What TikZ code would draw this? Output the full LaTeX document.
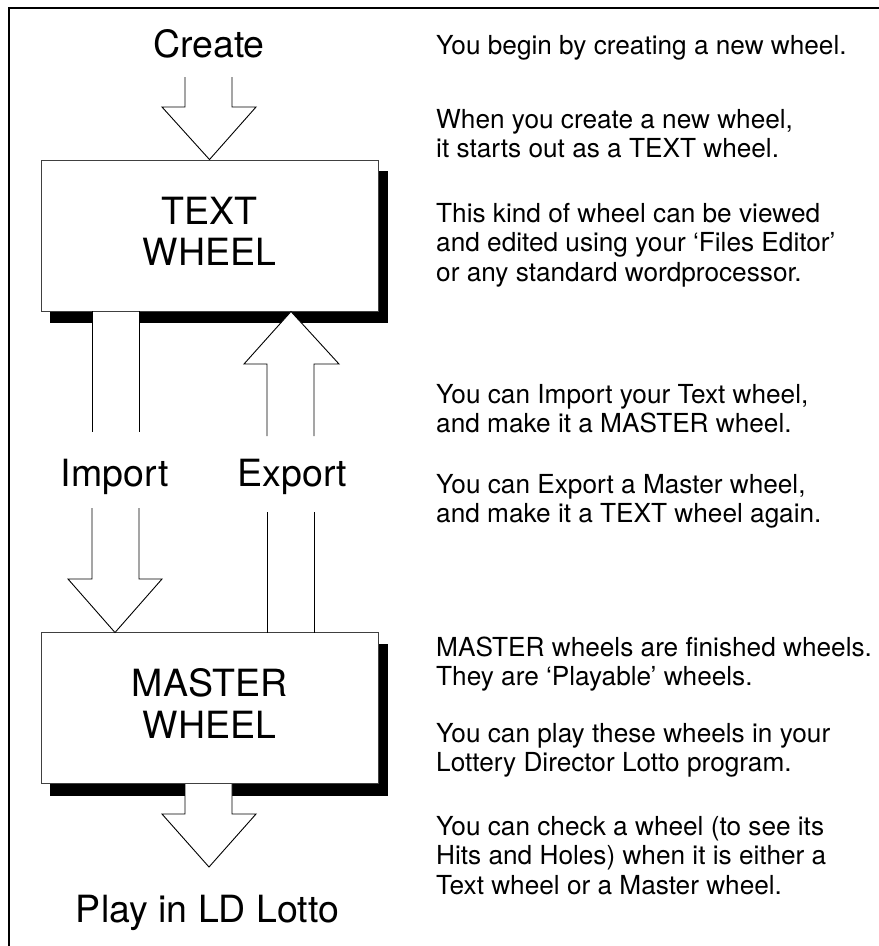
\documentclass[tikz,border=0pt]{standalone}
\usepackage{fontspec}
\setmainfont{TeX Gyre Heros}
\begin{document}
\begin{tikzpicture}[x=1pt,y=-1pt,
  big/.style={font=\fontsize{37.5}{40}\selectfont, inner sep=0pt, anchor=base},
  note/.style={font=\fontsize{26.2}{29.6}\selectfont, inner sep=0pt, anchor=base west, align=left},
  wheelbox/.style={draw=black!75, line width=0.9pt, fill=white, minimum width=337pt, minimum height=151pt, inner sep=0pt},
  shadowbox/.style={fill=black},
  blockarrow/.style={draw=black, line width=0.9pt, fill=white, line join=miter},
  arrowline/.style={draw=black, line width=0.9pt},
  frameline/.style={line width=2pt}]
\useasboundingbox (0,0) rectangle (879,946);
\draw[frameline] (9.3,946) -- (9.3,8.3) -- (879,8.3);

% shadows
\path[shadowbox] (50,171) rectangle (388,323);
\path[shadowbox] (50,644) rectangle (388,796);

% boxes
\node[wheelbox] (tw) at (209.5,235.5) {};
\node[wheelbox] (mw) at (209.5,708) {};

% box texts
\node[big] (t1) at (209.5,224) {TEXT};
\node[big] (t2) at (209.5,265) {WHEEL};
\node[big] (m1) at (209.5,696) {MASTER};
\node[big] (m2) at (209.5,738) {WHEEL};

% labels
\node[big] (create) at (209,57) {Create};
\node[big] (imp) at (114.7,486) {Import};
\node[big] (exp) at (292.5,486) {Export};
\node[big] (play) at (207.5,922) {Play in LD Lotto};

% coordinates
\coordinate (imptip) at (115,632.5);
\coordinate (exptip) at (291,311.5);
\coordinate (playtip) at (209,867);

% Create arrow
\filldraw[blockarrow] (185,77) -- (185,107) -- (162,107) -- (tw.north) -- (256,107) -- (232,107) -- (232,77);

% Import arrow
\fill[white] (92,312) rectangle (139,432);
\draw[arrowline] (92,311) -- (92,432) (139,311) -- (139,432);
\filldraw[blockarrow] (92,508) -- (92,579) -- (68,579) -- (imptip) -- (162,579) -- (139,579) -- (139,508);

% Export arrow
\filldraw[blockarrow] (267,436) -- (267,364) -- (244,364) -- (exptip) -- (339,364) -- (314,364) -- (314,436);
\draw[arrowline] (267,512) -- (267,633) (314,512) -- (314,633);

% Play arrow
\filldraw[blockarrow] (185,784) -- (185,814) -- (162,814) -- (playtip) -- (256,814) -- (232,814) -- (232,784);

% notes (base anchor = baseline of last line)
\node[note] (n1) at (436,54) {You begin by creating a new wheel.};
\node[note] (n2) at (436,157.6) {When you create a new wheel,\\it starts out as a TEXT wheel.};
\node[note] (n3) at (436,281.2) {This kind of wheel can be viewed\\and edited using your ‘Files Editor’\\or any standard wordprocessor.};
\node[note] (n4) at (436,432.6) {You can Import your Text wheel,\\and make it a MASTER wheel.};
\node[note] (n5) at (436,522.6) {You can Export a Master wheel,\\and make it a TEXT wheel again.};
\node[note] (n6) at (436,685.6) {MASTER wheels are finished wheels.\\They are ‘Playable’ wheels.};
\node[note] (n7) at (436,771.6) {You can play these wheels in your\\Lottery Director Lotto program.};
\node[note] (n8) at (436,894.2) {You can check a wheel (to see its\\Hits and Holes) when it is either a\\Text wheel or a Master wheel.};
\end{tikzpicture}
\end{document}
